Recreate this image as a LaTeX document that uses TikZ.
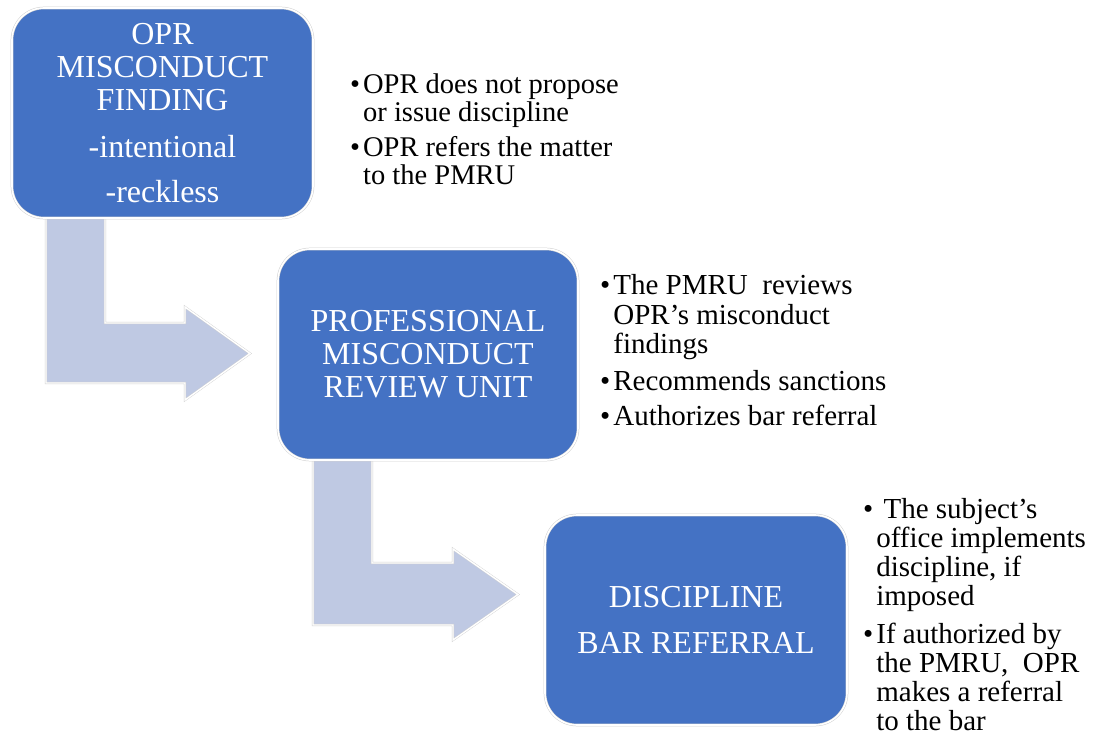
\documentclass[tikz,border=0pt]{standalone}
\usepackage{fontspec}
\setmainfont{Liberation Serif}
\definecolor{boxblue}{HTML}{4472C4}
\definecolor{arrowfill}{HTML}{BFC9E3}
\definecolor{edgegray}{HTML}{D0D0D0}
\tikzset{
  stagebox/.style={draw=edgegray, double=white, double distance=1.6pt, line width=0.5pt,
    fill=boxblue, rounded corners=32pt, text=white, align=center, inner sep=0pt,
    minimum width=301pt, minimum height=210pt,
    font=\fontsize{32}{33}\selectfont},
  blockarrow/.style={draw=edgegray, double=white, double distance=1.4pt, line width=0.4pt,
    fill=arrowfill},
  notes/.style={anchor=base west, inner sep=0pt, text=black}
}
\begin{document}
\begin{tikzpicture}[x=1pt,y=-1pt]
\useasboundingbox (0,0) rectangle (1096,738);
% bent arrows
\draw[blockarrow] (46,214) -- (46,383) -- (185,383) -- (185,400) -- (250,353.5)
  -- (185,307) -- (185,323) -- (105,323) -- (105,214) -- cycle;
\draw[blockarrow] (313,456) -- (313,625) -- (453,625) -- (453,640) -- (518,594.5)
  -- (453,549) -- (453,563) -- (372,563) -- (372,456) -- cycle;
% boxes
\node[stagebox] (b1) at (162.5,113) {OPR\\MISCONDUCT\\FINDING\\[14pt]-intentional\\[12pt]-reckless};
\node[stagebox, minimum width=300pt, minimum height=211pt] (b2) at (428,354.5)
  {PROFESSIONAL\\MISCONDUCT\\REVIEW UNIT};
\node[stagebox, minimum width=302pt] (b3) at (696,620) {DISCIPLINE\\[13pt]BAR REFERRAL};
% notes
\node[notes, font=\fontsize{28.5}{26}\selectfont] (n1) at (350,94)
  {\begin{tabular}[t]{@{}l@{\hspace{3pt}}l@{}}
   •&OPR does not propose\\
    &or issue discipline\\[7pt]
   •&OPR refers the matter\\
    &to the PMRU
   \end{tabular}};
\node[notes, font=\fontsize{29}{29}\selectfont] (n2) at (600,295)
  {\begin{tabular}[t]{@{}l@{\hspace{3pt}}l@{}}
   •&The PMRU~ reviews\\
    &OPR’s misconduct\\
    &findings\\[8pt]
   •&Recommends sanctions\\[6pt]
   •&Authorizes bar referral
   \end{tabular}};
\node[notes, font=\fontsize{29}{29}\selectfont] (n3) at (863,518)
  {\begin{tabular}[t]{@{}l@{\hspace{3pt}}l@{}}
   •&\ The subject’s\\
    &office implements\\
    &discipline, if\\
    &imposed\\[9pt]
   •&If authorized by\\
    &the PMRU,\ \ OPR\\
    &makes a referral\\
    &to the bar
   \end{tabular}};
\end{tikzpicture}
\end{document}
